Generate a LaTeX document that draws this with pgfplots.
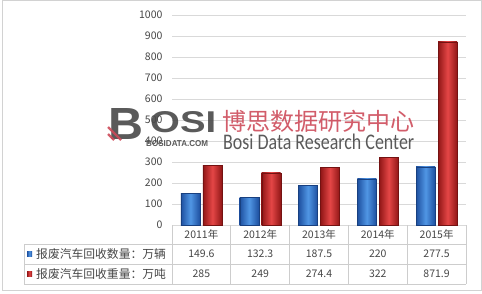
\documentclass[border=0pt]{standalone}
\usepackage{pgfplots}
\pgfplotsset{compat=1.18}
\usepackage{fontspec}
\setmainfont{Noto Sans CJK SC}
\newfontfamily\carlito{Carlito}
\newfontfamily\libsans{Liberation Sans}
\definecolor{txt}{RGB}{70,70,70}
\definecolor{gridc}{RGB}{217,217,217}
\definecolor{tablec}{RGB}{205,205,205}
\definecolor{blueE}{RGB}{30,80,160}
\definecolor{blueM}{RGB}{80,150,228}
\definecolor{redE}{RGB}{145,22,22}
\definecolor{redM}{RGB}{228,70,70}
\definecolor{wmred}{RGB}{205,75,90}
\definecolor{wmgray}{RGB}{72,72,72}
\pgfplotsset{
  bluebar/.style={ybar, bar width=19pt, bar shift=-11pt, draw=blueE!80!black, line width=0.4pt, left color=blueE, right color=blueE, middle color=blueM},
  redbar/.style={ybar, bar width=19pt, bar shift=11pt, draw=redE!80!black, line width=0.4pt, left color=redE, right color=redE, middle color=redM},
}
\begin{document}
\begin{tikzpicture}[x=1pt,y=1pt]
\path[use as bounding box] (0,0) rectangle (482,293);
\draw[gray!35, line width=0.8pt] (2,3) rectangle (481,292.5);
\begin{axis}[
  at={(172pt,68pt)}, anchor=south west,
  scale only axis, width=294pt, height=210pt,
  xmin=-0.5, xmax=4.5, ymin=0, ymax=1000,
  ytick={0,100,...,1000},
  xtick=\empty,
  ymajorgrids, grid style={gridc, line width=0.7pt},
  axis line style={draw=none},
  major tick length=0pt,
  yticklabel style={font=\fontsize{10.5}{12}\selectfont, text=txt, xshift=-6pt},
  /pgf/number format/assume math mode=true,
  /pgf/number format/1000 sep={},
  clip=false,
]
% 报废汽车回收数量：万辆
\addplot[bluebar] coordinates {(0,149.6)};
\addplot[bluebar] coordinates {(1,132.3)};
\addplot[bluebar] coordinates {(2,187.5)};
\addplot[bluebar] coordinates {(3,220)};
\addplot[bluebar] coordinates {(4,277.5)};
% 报废汽车回收重量：万吨
\addplot[redbar] coordinates {(0,285)};
\addplot[redbar] coordinates {(1,249)};
\addplot[redbar] coordinates {(2,274.4)};
\addplot[redbar] coordinates {(3,322)};
\addplot[redbar] coordinates {(4,871.9)};
\end{axis}
% data table
\foreach \k in {0,...,5}{
  \draw[tablec, line width=0.7pt] ({172+58.8*\k},68) -- ({172+58.8*\k},9);
}
\draw[tablec, line width=0.7pt] (24,49) -- (24,9);
\foreach \yy in {49,29,9}{
  \draw[tablec, line width=0.7pt] (24,\yy) -- (466,\yy);
}
\foreach \lab [count=\i from 0] in {2011年,2012年,2013年,2014年,2015年}{
  \node[text=txt, font=\fontsize{10.5}{12}\selectfont] at ({172+58.8*(\i+0.5)},58.5) {\lab};
}
\foreach \v [count=\i from 0] in {149.6,132.3,187.5,220,277.5}{
  \node[text=txt, font=\fontsize{10.5}{12}\selectfont] at ({172+58.8*(\i+0.5)},39) {\v};
}
\foreach \v [count=\i from 0] in {285,249,274.4,322,871.9}{
  \node[text=txt, font=\fontsize{10.5}{12}\selectfont] at ({172+58.8*(\i+0.5)},19) {\v};
}
\fill[left color=blueE, right color=blueE, middle color=blueM] (27,36.5) rectangle (32,41.5);
\fill[left color=redE, right color=redE, middle color=redM] (27,16.5) rectangle (32,21.5);
\node[anchor=west, inner sep=0, text=txt, font=\fontsize{11.8}{13}\selectfont] at (36,39) {报废汽车回收数量：万辆};
\node[anchor=west, inner sep=0, text=txt, font=\fontsize{11.8}{13}\selectfont] at (36,19) {报废汽车回收重量：万吨};
% watermark
\begin{scope}[opacity=0.9]
\node[anchor=south west, inner sep=0, text=wmgray] at (108,153) {\resizebox{35pt}{31pt}{\libsans\bfseries B}};
\node[anchor=south west, inner sep=0, text=wmgray] at (150,160) {\resizebox{66pt}{21pt}{\libsans\bfseries OSI}};
\draw[wmred, line width=2.2pt] (108,166) -- (121,153);
\draw[wmred, line width=2.2pt] (108,159) -- (114,153);
\node[anchor=south west, inner sep=0, text=wmgray] at (146,146) {\resizebox{62pt}{6pt}{\libsans\bfseries BOSIDATA.COM}};
\node[anchor=west, inner sep=0, text=wmred, font=\fontsize{24}{26}\selectfont] at (222,172) {博思数据研究中心};
\node[anchor=south west, inner sep=0, text=wmgray] at (223,143) {\resizebox{191pt}{15.5pt}{\carlito Bosi Data Research Center}};
\end{scope}
\end{tikzpicture}
\end{document}
